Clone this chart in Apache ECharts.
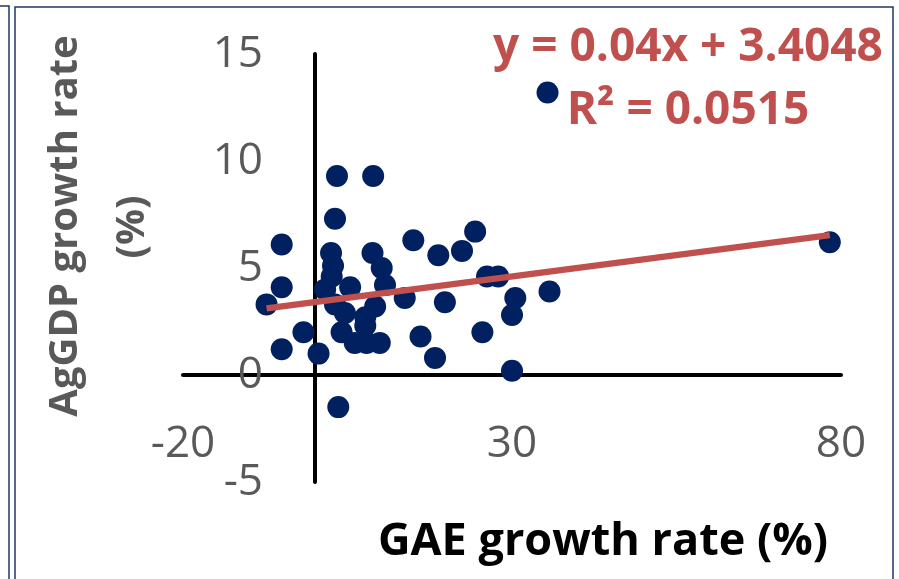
<!DOCTYPE html>
<html>
<head>
<meta charset="utf-8">
<script src="https://cdn.jsdelivr.net/npm/echarts@6/dist/echarts.min.js"></script>
<style>
html,body{margin:0;padding:0;background:#fff}
#main{width:899px;height:579px}
</style>
</head>
<body>
<div id="main"></div>
<script>
// GAE growth rate (%) vs AgGDP growth rate (%)
var gaeGrowth = [35.4, 3.4, 8.9, 3.1, -5.0, 15.0, 24.4, 22.4, 18.8, 2.5, 8.8, 2.8, 10.2, -5.0, -7.3,
  1.6, 5.4, 10.7, 13.7, 19.8, 26.2, 27.9, 30.5, 30.0, 35.7, 3.1, 4.6, 9.2, 7.7, -1.7,
  4.1, 7.7, 6.1, 7.9, 9.9, -5.0, 0.6, 16.1, 25.5, 18.3, 30.0, 3.6, 78.3, 2.6];
var agGdpGrowth = [13.2, 9.3, 9.3, 7.3, 6.1, 6.3, 6.7, 5.8, 5.6, 5.7, 5.7, 5.1, 5.0, 4.1, 3.3,
  4.0, 4.1, 4.2, 3.6, 3.4, 4.6, 4.6, 3.6, 2.8, 3.9, 3.3, 2.9, 3.2, 2.7, 2.0,
  2.0, 2.3, 1.5, 1.5, 1.5, 1.2, 1.0, 1.8, 2.0, 0.8, 0.2, -1.5, 6.2, 4.6];
var xTicks = [-20, 30, 80];
var yTicks = [-5, 0, 5, 10, 15];
var slope = 0.04;
var intercept = 3.4048;
var rSquared = 0.0515;
var trendX = [-7.3, 78.3];

var points = gaeGrowth.map(function (x, i) { return [x, agGdpGrowth[i]]; });
var trend = trendX.map(function (x) { return [x, slope * x + intercept]; });

var chart = echarts.init(document.getElementById('main'));
var labelFont = '"Open Sans", sans-serif';
var navy = '#002060';
var red = '#C0504D';

chart.setOption({
  animation: false,
  backgroundColor: '#fff',
  grid: { left: 183, right: 58, top: 54, bottom: 97 },
  xAxis: {
    type: 'value',
    min: xTicks[0],
    max: xTicks[xTicks.length - 1],
    interval: xTicks[1] - xTicks[0],
    axisLine: { onZero: true, lineStyle: { color: '#000', width: 4 } },
    axisTick: { show: false },
    splitLine: { show: false },
    axisLabel: { color: '#595959', fontSize: 44, fontFamily: labelFont, margin: -60 }
  },
  yAxis: {
    type: 'value',
    min: yTicks[0],
    max: yTicks[yTicks.length - 1],
    interval: yTicks[1] - yTicks[0],
    axisLine: { onZero: true, lineStyle: { color: '#000', width: 4 } },
    axisTick: { show: false },
    splitLine: { show: false },
    axisLabel: { color: '#595959', fontSize: 44, fontFamily: labelFont, margin: -80 }
  },
  series: [
    {
      type: 'scatter',
      data: points,
      symbolSize: 22,
      itemStyle: { color: navy, opacity: 1 },
      z: 2
    },
    {
      type: 'line',
      data: trend,
      symbol: 'none',
      lineStyle: { color: red, width: 6.5 },
      z: 3
    }
  ],
  graphic: [
    { type: 'rect', shape: { x: -10, y: 6, width: 19, height: 600 },
      style: { fill: 'none', stroke: '#1F3864', lineWidth: 1.5 } },
    { type: 'rect', shape: { x: 15, y: 7, width: 878, height: 600 },
      style: { fill: 'none', stroke: '#1F3864', lineWidth: 1.5 } },
    { type: 'text', x: 66, y: 226, rotation: Math.PI / 2,
      style: { text: 'AgGDP growth rate', fill: '#595959', font: 'bold 40px ' + labelFont,
        align: 'center', verticalAlign: 'middle' } },
    { type: 'text', x: 133, y: 227, rotation: Math.PI / 2,
      style: { text: '(%)', fill: '#595959', font: 'bold 40px ' + labelFont,
        align: 'center', verticalAlign: 'middle' } },
    { type: 'text', x: 603, y: 542,
      style: { text: 'GAE growth rate (%)', fill: '#000', font: 'bold 45px ' + labelFont,
        align: 'center', verticalAlign: 'middle' } },
    { type: 'text', x: 688, y: 48,
      style: { text: 'y = ' + slope + 'x + ' + intercept, fill: red, font: 'bold 46px ' + labelFont,
        align: 'center', verticalAlign: 'middle' } },
    { type: 'text', x: 688, y: 111,
      style: { text: 'R² = ' + rSquared, fill: red, font: 'bold 46px ' + labelFont,
        align: 'center', verticalAlign: 'middle' } }
  ]
});
</script>
</body>
</html>
